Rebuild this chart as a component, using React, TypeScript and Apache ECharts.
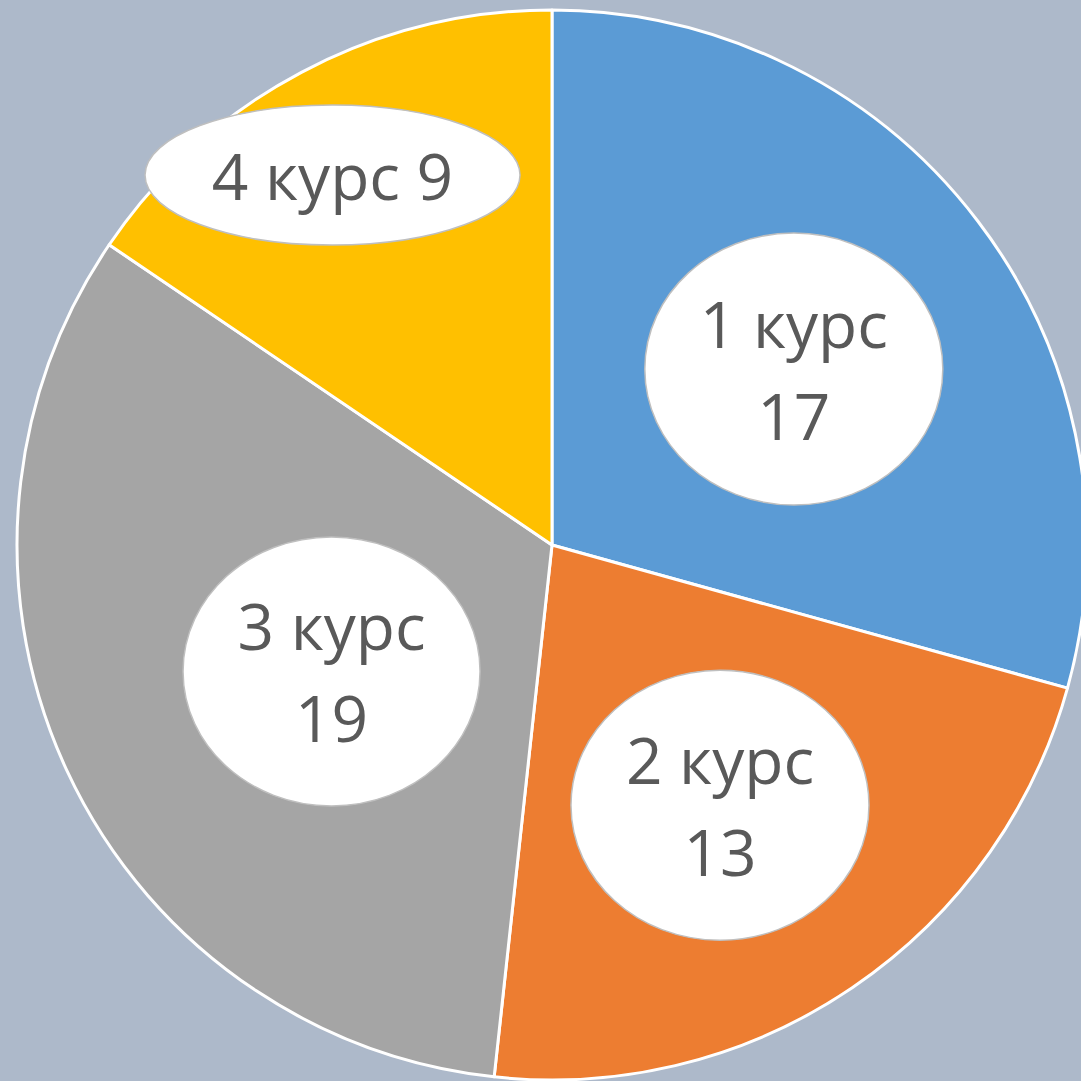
import React, { useEffect, useRef } from "react";
import * as echarts from "echarts";

const categories = ["1 курс", "2 курс", "3 курс", "4 курс"];
const values = [17, 13, 19, 9];
const colors = ["#5B9BD5", "#ED7D31", "#A5A5A5", "#FFC000"];
// label text layout: whether name and value share a line
const labelSingleLine = [false, false, false, true];
// label placement tweaks (angle shift in degrees, radius fraction)
const labelAngleShift = [1.2, 1.3, -5.0, -2.75];
const labelRadiusFrac = [0.559, 0.579, 0.475, 0.804];
// label bubble sizes (rx, ry)
const bubbleRx = [149, 149, 148.5, 187.5];
const bubbleRy = [136, 135, 134.5, 70];

const CX = 552;
const CY = 545;
const R = 535;

export default function App() {
  const ref = useRef<HTMLDivElement>(null);
  useEffect(() => {
    if (!ref.current) return;
    const chart = echarts.init(ref.current, undefined, { renderer: "svg" });
    const total = values.reduce((a, b) => a + b, 0);
    let cum = 0;
    const graphics: any[] = [];
    values.forEach((v, i) => {
      const mid = ((cum + v / 2) / total) * 360 + labelAngleShift[i];
      cum += v;
      const rad = (mid * Math.PI) / 180;
      const d = labelRadiusFrac[i] * R;
      const x = CX + d * Math.sin(rad);
      const y = CY - d * Math.cos(rad);
      const text = labelSingleLine[i]
        ? `${categories[i]} ${v}`
        : `${categories[i]}\n${v}`;
      graphics.push({
        type: "ellipse",
        z: 100,
        shape: { cx: x, cy: y, rx: bubbleRx[i], ry: bubbleRy[i] },
        style: { fill: "#FFFFFF", stroke: "#BFBFBF", lineWidth: 1.5 },
      });
      graphics.push({
        type: "text",
        z: 101,
        x,
        y,
        style: {
          text,
          align: "center",
          verticalAlign: "middle",
          fill: "#595959",
          font: '64px "Open Sans"',
          lineHeight: 92,
        },
      });
    });
    chart.setOption({
      animation: false,
      backgroundColor: "#ADB9CA",
      color: colors,
      series: [
        {
          type: "pie",
          z: 2,
          center: [CX, CY],
          radius: R,
          startAngle: 90,
          clockwise: true,
          label: { show: false },
          labelLine: { show: false },
          itemStyle: { borderColor: "#FFFFFF", borderWidth: 3 },
          emphasis: { disabled: true },
          data: categories.map((c, i) => ({ name: c, value: values[i] })),
        },
      ],
      graphic: { elements: graphics },
    });
    return () => chart.dispose();
  }, []);
  return (
    <div
      ref={ref}
      style={{ position: "absolute", left: 0, top: 0, width: 1081, height: 1081 }}
    />
  );
}
